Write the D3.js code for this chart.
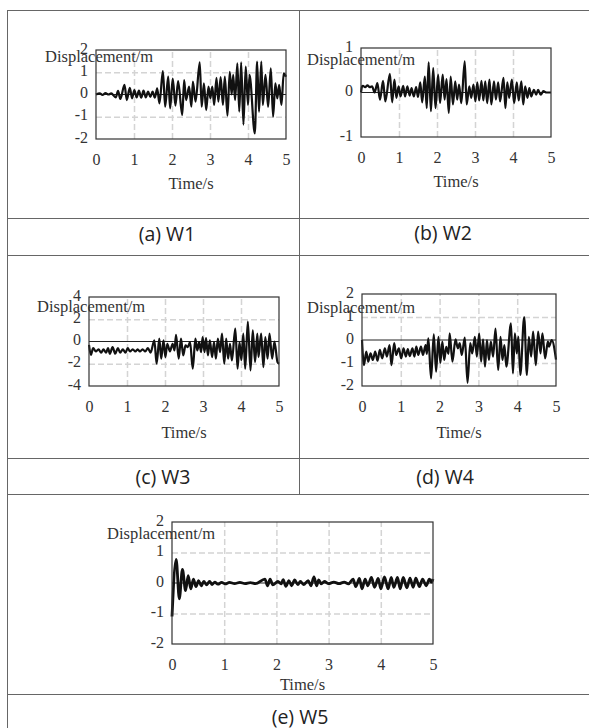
<!DOCTYPE html>
<html>
<head>
<meta charset="utf-8">
<script src="https://cdn.jsdelivr.net/npm/d3@7"></script>
<style>
  html, body { margin: 0; padding: 0; background: #fff; }
  svg { display: block; }
</style>
</head>
<body>
<svg id="chart" width="589" height="728"></svg>
<script>
// ---------------- DATA ----------------
const xTicks = [0, 1, 2, 3, 4, 5];
const yTicksW1 = [-2, -1, 0, 1, 2];
const yTicksW2 = [-1, 0, 1];
const yTicksW3 = [-4, -2, 0, 2, 4];
const yTicksW4 = [-2, -1, 0, 1, 2];
const yTicksW5 = [-2, -1, 0, 1, 2];
const captions = ["(a) W1", "(b) W2", "(c) W3", "(d) W4", "(e) W5"];
const yLabel = "Displacement/m";
const xLabel = "Time/s";

const timeW1 = [0,0.1,0.17,0.25,0.33,0.4,0.52,0.58,0.64,0.75,0.81,0.89,0.95,1.01,1.07,1.13,1.19,1.25,1.31,1.37,1.43,1.49,1.55,1.61,1.67,1.76,1.82,1.9,1.95,2.02,2.09,2.16,2.27,2.32,2.37,2.45,2.51,2.55,2.62,2.73,2.78,2.84,2.9,2.96,3.01,3.06,3.11,3.17,3.22,3.28,3.34,3.39,3.46,3.52,3.57,3.61,3.66,3.72,3.77,3.82,3.88,3.94,4.0,4.04,4.18,4.24,4.29,4.35,4.39,4.46,4.53,4.6,4.66,4.72,4.77,4.82,4.88,4.94,5.0];
const dispW1 = [0,0.05,-0.02,0.06,0,0.05,-0.13,0.16,-0.2,0.43,-0.25,0.3,-0.17,0.2,-0.13,0.17,-0.14,0.17,-0.13,0.13,-0.11,0.13,-0.14,0.28,-0.4,1.05,-0.55,0.8,-0.62,0.72,-0.5,0.6,-0.92,0.65,-0.25,0.35,-0.55,0.58,-0.32,1.45,-0.55,0.5,-0.7,0.35,-0.17,0.35,-0.47,0.75,-0.32,0.78,-0.47,0.8,-0.95,1.02,0,0.88,-0.25,1.4,-0.77,1.45,-1.35,1.25,-0.47,0.88,-1.75,1.48,-0.77,1.48,-0.47,0.88,-0.55,1.18,-1.0,0.5,-0.17,0.43,-0.47,0.95,0.8];

const timeW2 = [0,0.03,0.05,0.11,0.17,0.23,0.29,0.36,0.43,0.5,0.58,0.64,0.76,0.82,0.88,0.93,0.99,1.04,1.11,1.16,1.22,1.28,1.33,1.39,1.45,1.5,1.56,1.61,1.68,1.73,1.78,1.84,1.9,1.96,2.03,2.08,2.15,2.2,2.25,2.31,2.36,2.42,2.48,2.53,2.58,2.64,2.73,2.78,2.85,2.9,2.96,3.01,3.06,3.11,3.17,3.22,3.27,3.32,3.38,3.43,3.5,3.55,3.61,3.66,3.75,3.8,3.85,3.9,3.97,4.03,4.1,4.15,4.22,4.27,4.32,4.38,4.43,4.48,4.55,4.61,4.66,4.73,4.8,4.88,5.0];
const dispW2 = [0,0.14,0.15,0.12,0.16,0.12,0.14,0,0.21,-0.16,0.26,-0.2,0.42,-0.22,0.29,-0.12,0.14,-0.09,0.15,-0.09,0.14,-0.07,0.1,-0.09,0.12,-0.1,0.23,-0.22,0.36,-0.35,0.68,-0.42,0.55,-0.35,0.4,-0.24,0.4,-0.16,0.3,-0.46,0.36,-0.27,0.25,-0.16,0.18,-0.24,0.7,-0.27,0.14,-0.12,0.18,-0.2,0.23,-0.18,0.26,-0.18,0.25,-0.24,0.29,-0.27,0.25,-0.16,0.23,-0.2,0.33,-0.35,0.23,-0.12,0.29,-0.24,0.23,-0.18,0.25,-0.27,0.14,-0.12,0.1,-0.09,0.06,-0.05,0.06,-0.05,0.03,0,0];

const timeW3 = [0,0.05,0.11,0.18,0.25,0.32,0.38,0.45,0.5,0.55,0.62,0.69,0.76,0.82,0.89,0.96,1.02,1.08,1.15,1.22,1.28,1.34,1.41,1.48,1.55,1.62,1.72,1.78,1.85,1.9,1.96,2.01,2.06,2.13,2.2,2.25,2.29,2.36,2.42,2.48,2.54,2.6,2.66,2.73,2.8,2.85,2.9,2.95,2.99,3.04,3.08,3.13,3.18,3.24,3.29,3.34,3.39,3.45,3.5,3.56,3.61,3.66,3.71,3.76,3.85,3.91,3.96,4.01,4.06,4.11,4.18,4.25,4.31,4.37,4.43,4.46,4.53,4.59,4.64,4.7,4.75,4.82,4.88,4.96,5.0];
const dispW3 = [-0.3,-1.2,-0.6,-0.9,-0.7,-1.0,-0.7,-1.0,-0.6,-1.1,-0.5,-1.1,-0.6,-1.0,-0.7,-1.0,-0.6,-0.9,-0.7,-0.9,-0.7,-0.9,-0.7,-0.9,-0.6,-1.0,0.1,-2.0,0.25,-1.55,0.1,-1.4,-0.2,-0.9,-0.2,-0.8,0.6,-1.55,0.25,-1.25,-0.35,-0.5,-0.05,-2.45,0.25,-0.8,-0.05,-0.95,0.4,-0.95,0.3,-1.25,0.1,-1.4,-0.05,-1.55,0.25,-0.95,0.7,-2.0,0.25,-1.55,-0.2,-1.7,1.15,-2.45,-0.05,-1.7,0.7,-2.45,1.8,-2.6,1.0,-1.85,0.7,-1.4,0.7,-2.3,0.4,-1.55,0.7,-1.55,0,-1.85,-2.0];

const timeW4 = [0,0.05,0.11,0.16,0.22,0.28,0.34,0.4,0.46,0.52,0.59,0.64,0.71,0.76,0.83,0.88,0.95,1.01,1.07,1.13,1.18,1.23,1.3,1.35,1.4,1.45,1.52,1.57,1.64,1.67,1.71,1.78,1.85,1.91,1.97,2.02,2.07,2.12,2.17,2.23,2.26,2.33,2.41,2.47,2.52,2.57,2.65,2.72,2.79,2.84,2.91,2.96,3.02,3.07,3.12,3.17,3.22,3.27,3.32,3.38,3.44,3.51,3.57,3.62,3.67,3.72,3.84,3.89,3.94,3.99,4.03,4.08,4.18,4.25,4.3,4.36,4.41,4.48,4.54,4.6,4.65,4.72,4.79,4.82,4.89,5.0];
const dispW4 = [0,-1.09,-0.5,-0.94,-0.58,-0.87,-0.5,-0.9,-0.43,-0.8,-0.36,-0.72,-0.22,-1.09,-0.14,-0.65,-0.36,-0.8,-0.36,-0.72,-0.4,-0.7,-0.36,-0.72,-0.29,-0.65,-0.29,-0.65,-0.22,-0.6,0.07,-1.67,0.25,-1.38,0.14,-1.0,-0.07,-0.87,-0.3,-0.6,0.29,-0.94,0.03,-0.36,-0.14,-0.65,0.1,-1.86,-0.14,-0.58,0.14,-0.72,0.29,-0.94,0.03,-1.16,0,-0.87,-0.07,-0.72,0.5,-1.3,0.14,-0.87,-0.22,-1.16,0.72,-1.45,0.29,-0.58,0.14,-1.52,1.0,-1.52,0.14,-0.72,0.36,-1.09,0.36,-0.58,0.29,-0.8,-0.07,-0.29,0,-0.85];

const timeW5 = [0,0.08,0.14,0.2,0.26,0.31,0.36,0.41,0.46,0.51,0.56,0.61,0.66,0.72,0.77,0.82,0.88,0.95,1.02,1.1,1.2,1.3,1.4,1.5,1.6,1.78,1.83,1.88,1.93,2.03,2.09,2.13,2.18,2.24,2.29,2.35,2.41,2.46,2.52,2.61,2.66,2.72,2.77,2.81,2.86,2.92,3.0,3.1,3.2,3.3,3.38,3.47,3.52,3.59,3.64,3.7,3.75,3.82,3.88,3.95,4.0,4.07,4.14,4.2,4.25,4.32,4.37,4.43,4.5,4.56,4.62,4.67,4.74,4.8,4.87,4.93,4.97,5.0];
const dispW5 = [-1.1,0.77,-0.52,0.45,-0.25,0.24,-0.19,0.13,-0.12,0.08,-0.09,0.05,-0.06,0.05,-0.05,0.03,-0.04,0.02,-0.03,0.02,-0.02,0.02,-0.02,0.01,-0.02,0.13,-0.09,0.13,-0.06,0.05,-0.03,0.11,-0.11,0.08,-0.09,0.1,-0.05,0.05,-0.05,0.08,-0.09,0.2,-0.09,0.1,-0.03,0.05,-0.02,0.03,-0.02,0.03,-0.03,0.13,-0.12,0.15,-0.19,0.13,-0.09,0.18,-0.14,0.15,-0.19,0.2,-0.19,0.18,-0.14,0.18,-0.19,0.18,-0.16,0.16,-0.14,0.16,-0.12,0.13,-0.09,0.13,0.03,0.13];

// ---------------- LAYOUT ----------------
const panels = [
  { t: timeW1, v: dispW1, yTicks: yTicksW1, cap: captions[0], x0: 96,  x1: 286, y0: 50,  y1: 139, lx: 45,  ly: 62,  xly: 189, capX: 167, capY: 233, lw: 2.2 },
  { t: timeW2, v: dispW2, yTicks: yTicksW2, cap: captions[1], x0: 361, x1: 551, y0: 48,  y1: 137, lx: 307, ly: 65,  xly: 187, capX: 443, capY: 232, lw: 2.2 },
  { t: timeW3, v: dispW3, yTicks: yTicksW3, cap: captions[2], x0: 89,  x1: 279, y0: 297, y1: 386, lx: 37,  ly: 312, xly: 438, capX: 163, capY: 476, lw: 2.2 },
  { t: timeW4, v: dispW4, yTicks: yTicksW4, cap: captions[3], x0: 362, x1: 556, y0: 294, y1: 386, lx: 307, ly: 313, xly: 438, capX: 445, capY: 476, lw: 2.2 },
  { t: timeW5, v: dispW5, yTicks: yTicksW5, cap: captions[4], x0: 172, x1: 433, y0: 522, y1: 644, lx: 107, ly: 539, xly: 690, capX: 300, capY: 716, lw: 2.8 }
];

const svg = d3.select("#chart");
const serif = "'Liberation Serif', 'Times New Roman', serif";
const sans = "'Open Sans', 'Noto Sans', sans-serif";
const fmt = d => String(d);

// table lines
const tbl = svg.append("g").attr("stroke", "#666").attr("stroke-width", 1).attr("fill", "none");
[10, 218, 255, 458, 494, 694].forEach(y => {
  tbl.append("line").attr("x1", 7).attr("x2", 589).attr("y1", y + 0.5).attr("y2", y + 0.5);
});
tbl.append("line").attr("x1", 7.5).attr("x2", 7.5).attr("y1", 10).attr("y2", 728);
tbl.append("line").attr("x1", 299.5).attr("x2", 299.5).attr("y1", 10).attr("y2", 494);

panels.forEach(p => {
  const x = d3.scaleLinear().domain([0, 5]).range([p.x0, p.x1]);
  const yd = d3.extent(p.yTicks);
  const y = d3.scaleLinear().domain(yd).range([p.y1, p.y0]);
  const g = svg.append("g");

  // grid
  const gx = g.append("g")
    .attr("transform", `translate(0,${p.y1})`)
    .call(d3.axisBottom(x).tickValues(xTicks.slice(1, -1)).tickSize(-(p.y1 - p.y0)).tickFormat(""));
  const gy = g.append("g")
    .attr("transform", `translate(${p.x0},0)`)
    .call(d3.axisLeft(y).tickValues(p.yTicks.filter(v => v !== yd[0] && v !== yd[1] && v !== 0)).tickSize(-(p.x1 - p.x0)).tickFormat(""));
  [gx, gy].forEach(a => {
    a.select(".domain").remove();
    a.selectAll("line").attr("stroke", "#d4d4d4").attr("stroke-width", 1.5).attr("stroke-dasharray", "6,3");
  });

  // zero line
  g.append("line").attr("x1", p.x0).attr("x2", p.x1)
    .attr("y1", y(0)).attr("y2", y(0)).attr("stroke", "#222").attr("stroke-width", 1);

  // data
  const line = d3.line().x((d, i) => x(p.t[i])).y((d, i) => y(p.v[i])).curve(d3.curveMonotoneX);
  g.append("path").datum(p.v).attr("d", line)
    .attr("fill", "none").attr("stroke", "#111").attr("stroke-width", p.lw).attr("stroke-linejoin", "round");

  // frame
  g.append("rect").attr("x", p.x0).attr("y", p.y0).attr("width", p.x1 - p.x0).attr("height", p.y1 - p.y0)
    .attr("fill", "none").attr("stroke", "#333").attr("stroke-width", 1.2);

  // x tick labels
  const xa = g.append("g").attr("transform", `translate(0,${p.y1})`)
    .call(d3.axisBottom(x).tickValues(xTicks).tickSize(0).tickPadding(15).tickFormat(fmt));
  xa.select(".domain").remove();
  xa.selectAll("text").attr("font-family", serif).attr("font-size", 16).attr("fill", "#333");

  // y tick labels
  const ya = g.append("g").attr("transform", `translate(${p.x0},0)`)
    .call(d3.axisLeft(y).tickValues(p.yTicks).tickSize(0).tickPadding(8).tickFormat(fmt));
  ya.select(".domain").remove();
  ya.selectAll("text").attr("font-family", serif).attr("font-size", 16).attr("fill", "#333").attr("dy", "0.2em");

  // axis titles
  g.append("text").attr("x", p.lx).attr("y", p.ly).text(yLabel)
    .attr("font-family", serif).attr("font-size", 16.5).attr("fill", "#333");
  g.append("text").attr("x", (p.x0 + p.x1) / 2).attr("y", p.xly).attr("text-anchor", "middle").text(xLabel)
    .attr("font-family", serif).attr("font-size", 16.5).attr("fill", "#333");

  // caption
  svg.append("text").attr("x", p.capX).attr("y", p.capY).attr("text-anchor", "middle")
    .attr("dominant-baseline", "central").text(p.cap)
    .attr("font-family", sans).attr("font-size", 19.5).attr("fill", "#222");
});
</script>
</body>
</html>
